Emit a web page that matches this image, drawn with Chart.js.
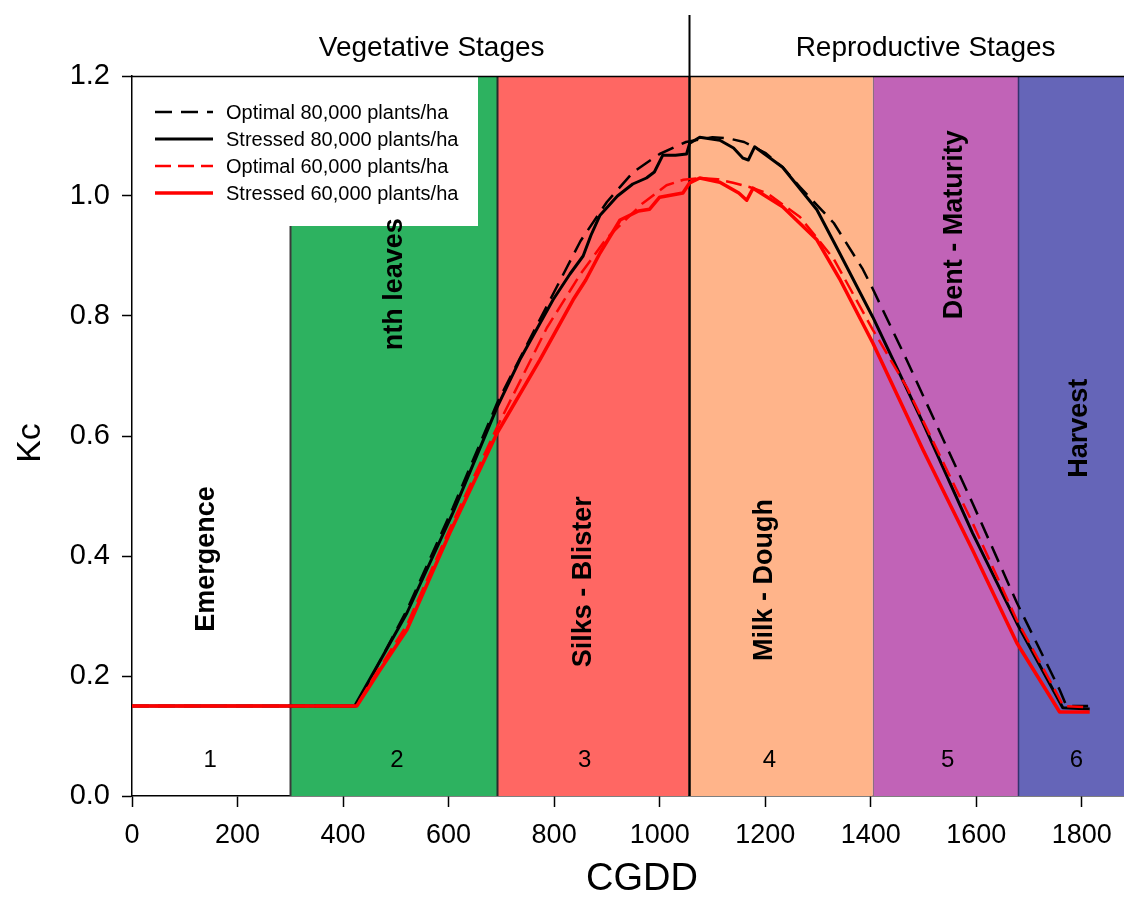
<!DOCTYPE html>
<html>
<head>
<meta charset="utf-8">
<script src="https://cdn.jsdelivr.net/npm/chart.js@4.4.1/dist/chart.umd.min.js"></script>
<style>
html,body{margin:0;padding:0;background:#fff;}
#wrap{width:1124px;height:915px;position:relative;}
</style>
</head>
<body>
<div id="wrap"><canvas id="c"></canvas></div>
<script>
// ---------------- DATA ----------------
const seriesLabels = ['Optimal 80,000 plants/ha', 'Stressed 80,000 plants/ha', 'Optimal 60,000 plants/ha', 'Stressed 60,000 plants/ha'];

const optimal80X = [0, 425, 470, 521, 608, 692, 750, 800, 850, 900, 950, 1000, 1050, 1100, 1130, 1160, 1200, 1233, 1266, 1330, 1385, 1404, 1468, 1525, 1593, 1677, 1758, 1771, 1812];
const optimal80Y = [0.15, 0.15, 0.225, 0.31, 0.48, 0.655, 0.755, 0.84, 0.925, 0.99, 1.04, 1.07, 1.09, 1.098, 1.096, 1.09, 1.072, 1.048, 1.015, 0.955, 0.878, 0.845, 0.727, 0.618, 0.488, 0.322, 0.177, 0.15, 0.15];

const stressed80X = [0, 422, 470, 521, 608, 692, 735, 798, 830, 855, 870, 887, 920, 949, 975, 990, 1006, 1030, 1051, 1057, 1076, 1114, 1140, 1158, 1168, 1180, 1233, 1298, 1341, 1404, 1499, 1593, 1677, 1764, 1815];
const stressed80Y = [0.15, 0.15, 0.225, 0.305, 0.472, 0.648, 0.727, 0.827, 0.87, 0.9, 0.935, 0.968, 1.0, 1.02, 1.03, 1.04, 1.068, 1.068, 1.07, 1.088, 1.098, 1.093, 1.08, 1.063, 1.06, 1.082, 1.048, 0.977, 0.905, 0.798, 0.622, 0.438, 0.288, 0.147, 0.145];

const optimal60X = [0, 425, 470, 521, 602, 692, 786, 850, 900, 968, 1013, 1045, 1076, 1110, 1139, 1170, 1203, 1266, 1330, 1404, 1468, 1593, 1677, 1752, 1765, 1810];
const optimal60Y = [0.15, 0.15, 0.215, 0.285, 0.445, 0.615, 0.78, 0.87, 0.93, 0.988, 1.018, 1.027, 1.03, 1.028, 1.022, 1.015, 1.005, 0.965, 0.895, 0.777, 0.682, 0.455, 0.293, 0.172, 0.15, 0.148];

const stressed60X = [0, 426, 470, 521, 602, 692, 773, 836, 860, 887, 925, 960, 981, 1000, 1044, 1057, 1076, 1114, 1150, 1165, 1177, 1233, 1298, 1341, 1404, 1499, 1593, 1677, 1758, 1815];
const stressed60Y = [0.15, 0.15, 0.21, 0.277, 0.438, 0.605, 0.727, 0.827, 0.86, 0.905, 0.96, 0.975, 0.978, 0.998, 1.005, 1.022, 1.03, 1.023, 1.005, 0.993, 1.013, 0.982, 0.927, 0.862, 0.755, 0.577, 0.41, 0.255, 0.14, 0.14];

const xTicks = [0, 200, 400, 600, 800, 1000, 1200, 1400, 1600, 1800];
const yTicks = [0.0, 0.2, 0.4, 0.6, 0.8, 1.0, 1.2];

const stageNumbers = ['1', '2', '3', '4', '5', '6'];
const stageNames = ['Emergence', 'nth leaves', 'Silks - Blister', 'Milk - Dough', 'Dent - Maturity', 'Harvest'];
const stageStart = [0, 300, 692, 1055, 1404, 1680];
const stageEnd = [300, 692, 1055, 1404, 1680, 1880];
const phaseNames = ['Vegetative Stages', 'Reproductive Stages'];
const phaseDivider = 1055;

// annotation anchors (data units)
const stageNameX = [142, 498, 856, 1199, 1559, 1796];
const stageNameY = [0.395, 0.853, 0.357, 0.36, 0.952, 0.613];
const stageNumX = [148, 502, 858, 1208, 1546, 1790];
const stageNumY = 0.06;
const phaseX = [568, 1504];
const phaseY = 1.247;

// ---------------- STYLE ----------------
const FONT = '"Liberation Sans", Arial, Helvetica, sans-serif';
const stageColors = [null, 'rgb(45,178,96)', 'rgb(255,103,99)', 'rgb(255,180,138)', 'rgb(193,99,183)', 'rgb(101,101,184)'];
const stageEdgeColors = [null, '#3a3a3a', '#2a2a2a', '#000000', '#8a6f80', '#33336e'];
const stageEdgeWidths = [0, 2, 2, 2, 1, 1.5];

Chart.defaults.font.family = FONT;
Chart.defaults.color = '#000';

const pts = (xs, ys) => xs.map((x, i) => ({x: x, y: ys[i]}));

const seriesStyle = [
  {borderColor: '#000', borderWidth: 2.5, borderDash: [17, 9], order: 3},
  {borderColor: '#000', borderWidth: 3, borderDash: [], order: 2},
  {borderColor: '#ff0000', borderWidth: 2.5, borderDash: [16, 7], order: 1},
  {borderColor: '#ff0000', borderWidth: 3.5, borderDash: [], order: 0}
];
const seriesData = [pts(optimal80X, optimal80Y), pts(stressed80X, stressed80Y), pts(optimal60X, optimal60Y), pts(stressed60X, stressed60Y)];

const datasets = seriesLabels.map((lab, i) => Object.assign({
  label: lab,
  data: seriesData[i],
  pointRadius: 0,
  fill: false,
  tension: 0,
  borderCapStyle: 'butt',
  borderJoinStyle: 'round'
}, seriesStyle[i]));

const stagePlugin = {
  id: 'stagePlugin',
  beforeDatasetsDraw(chart) {
    const {ctx, chartArea: a, scales: {x, y}} = chart;
    ctx.save();
    for (let i = 0; i < stageStart.length; i++) {
      const x0 = x.getPixelForValue(stageStart[i]);
      const x1 = Math.min(x.getPixelForValue(stageEnd[i]), a.right);
      if (stageColors[i]) {
        ctx.fillStyle = stageColors[i];
        ctx.fillRect(x0, a.top, x1 - x0, a.bottom - a.top);
      }
    }
    for (let i = 1; i < stageStart.length; i++) {
      const px = Math.round(x.getPixelForValue(stageStart[i])) + 0.5;
      ctx.strokeStyle = stageEdgeColors[i];
      ctx.lineWidth = stageEdgeWidths[i];
      ctx.beginPath();
      ctx.moveTo(px, a.top);
      ctx.lineTo(px, a.bottom);
      ctx.stroke();
    }
    const dx = Math.round(x.getPixelForValue(phaseDivider)) + 0.5;
    ctx.strokeStyle = '#000';
    ctx.lineWidth = 2;
    ctx.beginPath();
    ctx.moveTo(dx, 15);
    ctx.lineTo(dx, a.bottom);
    ctx.stroke();

    // legend box
    const lx = a.left + 1, ly = a.top + 1, lw = 345, lh = 149;
    ctx.fillStyle = '#fff';
    ctx.fillRect(lx, ly, lw, lh);
    const rowY0 = 112, rowStep = 27;
    chart.data.datasets.forEach((ds, i) => {
      const ry = rowY0 + i * rowStep;
      ctx.strokeStyle = ds.borderColor;
      ctx.lineWidth = ds.borderWidth;
      ctx.setLineDash(ds.borderDash || []);
      ctx.beginPath();
      ctx.moveTo(155, ry);
      ctx.lineTo(213, ry);
      ctx.stroke();
      ctx.setLineDash([]);
      ctx.fillStyle = '#000';
      ctx.font = '20px ' + FONT;
      ctx.textAlign = 'left';
      ctx.textBaseline = 'middle';
      ctx.fillText(ds.label, 226, ry + 1);
    });

    ctx.fillStyle = '#000';
    ctx.font = 'bold 27px ' + FONT;
    ctx.textAlign = 'center';
    ctx.textBaseline = 'middle';
    for (let i = 0; i < stageNames.length; i++) {
      ctx.save();
      ctx.translate(x.getPixelForValue(stageNameX[i]), y.getPixelForValue(stageNameY[i]));
      ctx.rotate(-Math.PI / 2);
      ctx.fillText(stageNames[i], 0, 0);
      ctx.restore();
    }
    ctx.font = '24px ' + FONT;
    for (let i = 0; i < stageNumbers.length; i++) {
      ctx.fillText(stageNumbers[i], x.getPixelForValue(stageNumX[i]), y.getPixelForValue(stageNumY));
    }
    ctx.restore();
  },
  afterDraw(chart) {
    const {ctx, chartArea: a, scales: {x, y}} = chart;
    ctx.save();
    ctx.strokeStyle = '#000';
    ctx.lineWidth = 1.5;
    ctx.beginPath();
    ctx.moveTo(a.left, a.top + 0.5);
    ctx.lineTo(a.right, a.top + 0.5);
    ctx.stroke();
    ctx.fillStyle = '#000';
    ctx.font = '28px ' + FONT;
    ctx.textAlign = 'center';
    ctx.textBaseline = 'middle';
    for (let i = 0; i < phaseNames.length; i++) {
      ctx.fillText(phaseNames[i], x.getPixelForValue(phaseX[i]), y.getPixelForValue(phaseY));
    }
    ctx.font = '38px ' + FONT;
    ctx.fillText('CGDD', 642, 880);
    ctx.save();
    ctx.translate(31, 443);
    ctx.rotate(-Math.PI / 2);
    ctx.font = '34px ' + FONT;
    ctx.fillText('Kc', 0, 0);
    ctx.restore();
    ctx.restore();
  }
};

const chart = new Chart(document.getElementById('c'), {
  type: 'line',
  data: {datasets: datasets},
  options: {
    responsive: true,
    maintainAspectRatio: false,
    animation: false,
    layout: {padding: {left: 0, right: 0, top: 76, bottom: 0}},
    plugins: {legend: {display: false}, tooltip: {enabled: false}},
    scales: {
      x: {
        type: 'linear',
        min: 0,
        max: 1880,
        afterFit: s => { s.height = 119; },
        afterBuildTicks: s => { s.ticks = xTicks.map(v => ({value: v})); },
        ticks: {font: {size: 27}, color: '#000', padding: 12, maxRotation: 0, autoSkip: false, callback: v => String(v)},
        grid: {drawOnChartArea: false, drawTicks: true, tickLength: 11, tickColor: '#000', tickWidth: 1.5},
        border: {color: '#000', width: 1.5}
      },
      y: {
        type: 'linear',
        min: 0,
        max: 1.2,
        afterFit: s => { s.width = 132; },
        afterBuildTicks: s => { s.ticks = yTicks.map(v => ({value: v})); },
        ticks: {font: {size: 29}, color: '#000', padding: 12, callback: v => Number(v).toFixed(1)},
        grid: {drawOnChartArea: false, drawTicks: true, tickLength: 10, tickColor: '#000', tickWidth: 1.5},
        border: {color: '#000', width: 1.5}
      }
    }
  },
  plugins: [stagePlugin]
});
</script>
</body>
</html>
